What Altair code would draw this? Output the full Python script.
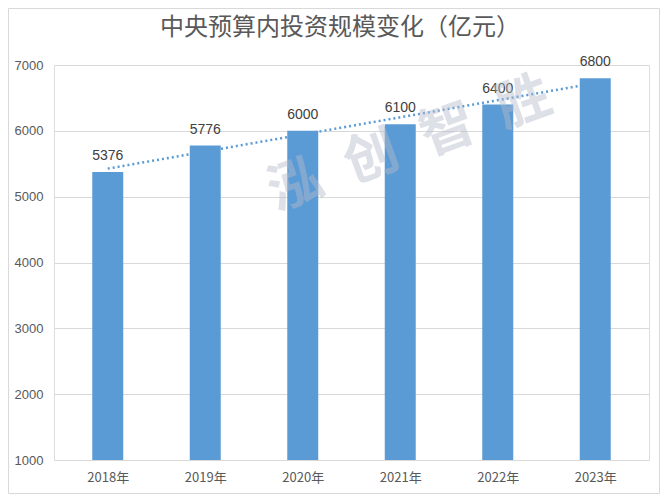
import altair as alt
import pandas as pd

TITLE = "中央预算内投资规模变化（亿元）"
years = ["2018年", "2019年", "2020年", "2021年", "2022年", "2023年"]
values = [5376, 5776, 6000, 6100, 6400, 6800]
y_ticks = [1000, 2000, 3000, 4000, 5000, 6000, 7000]
WATERMARK = "泓\u2002创\u2002智\u2002胜"

df = pd.DataFrame({"idx": list(range(1, len(years) + 1)), "year": years, "value": values})

BLUE = "#5b9bd5"
GRAY = "#595959"
FONT = "Liberation Sans"
CJK = "Noto Sans CJK SC"

label_expr = "[" + ",".join("'%s'" % y for y in years) + "][datum.value - 1]"

x = alt.X(
    "idx:Q",
    scale=alt.Scale(domain=[0.5, len(years) + 0.5], nice=False, zero=False),
    axis=alt.Axis(
        values=list(range(1, len(years) + 1)), labelExpr=label_expr, title=None,
        grid=False, ticks=False, domain=False, labelPadding=11,
        labelFont=CJK, labelFontSize=13, labelColor=GRAY,
    ),
)
y = alt.Y(
    "value:Q",
    scale=alt.Scale(domain=[y_ticks[0], y_ticks[-1]], nice=False, zero=False),
    axis=alt.Axis(
        values=y_ticks, title=None, grid=True, gridColor="#d9d9d9", gridWidth=1,
        ticks=False, domain=False, labelPadding=11, format="d",
        labelFont=FONT, labelFontSize=13, labelColor=GRAY,
    ),
)

base = alt.Chart(df)

trend = base.transform_regression("idx", "value", extent=[1, len(years)]).mark_line(
    color=BLUE, strokeDash=[2, 3], strokeWidth=2.5
).encode(x=x, y=y)

bars = base.mark_bar(color=BLUE, size=31).encode(x=x, y=y, y2=alt.datum(y_ticks[0]))

labels = base.mark_text(
    baseline="bottom", dy=-9, font=FONT, fontSize=14, color="#404040"
).encode(x=x, y=y, text=alt.Text("value:Q", format="d"))

wm = alt.Chart(pd.DataFrame({"t": [WATERMARK]})).mark_text(
    font=CJK, fontSize=54, fontWeight="bold", color="#b4bccc", opacity=0.45, angle=340,
    align="center", baseline="middle"
).encode(x=alt.value(356), y=alt.value(80), text="t:N")

title = alt.Chart(pd.DataFrame({"t": [TITLE]})).mark_text(
    font=CJK, fontSize=24, color=GRAY, align="center", baseline="middle"
).encode(x=alt.value(286), y=alt.value(-37), text="t:N")

border = alt.Chart(pd.DataFrame({"t": [0]})).mark_rect(
    fill=None, stroke="#d9d9d9", strokeWidth=1
).encode(x=alt.value(-45.5), x2=alt.value(605.5), y=alt.value(-56.5), y2=alt.value(428.5))

chart = alt.layer(border, trend, bars, labels, wm, title).properties(
    width=595, height=395,
    autosize=alt.AutoSizeParams(type="none"),
    padding={"left": 46, "top": 57, "right": 11, "bottom": 34},
).configure_view(stroke=None).configure(background="white")

chart.save("out.html", embed_options={"renderer": "svg", "actions": False})
